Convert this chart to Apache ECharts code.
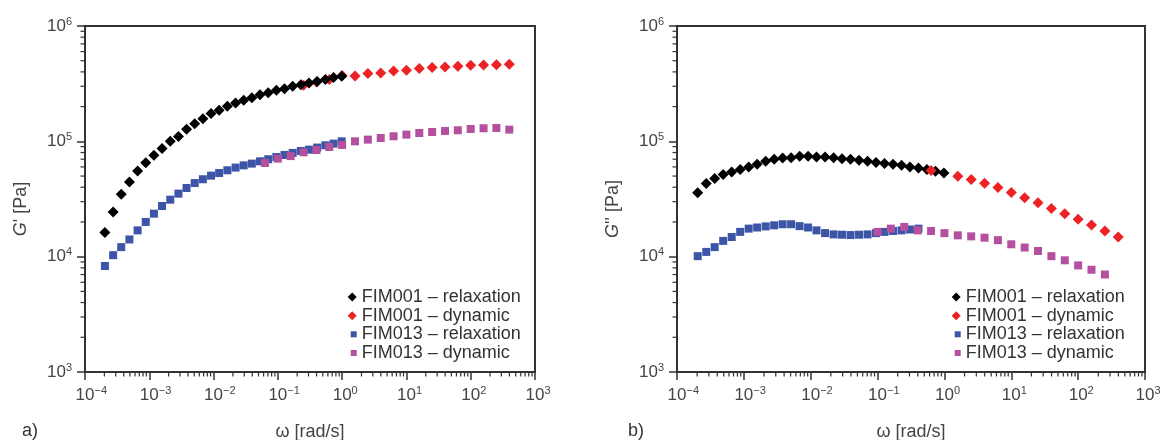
<!DOCTYPE html>
<html>
<head>
<meta charset="utf-8">
<script src="https://cdn.jsdelivr.net/npm/echarts@6/dist/echarts.min.js"></script>
<style>html,body{margin:0;padding:0;background:#fff}#c{width:1163px;height:440px}</style>
</head>
<body>
<div id="c"></div>
<script>
// ---------------- data ----------------
const seriesNames = ['FIM001 – relaxation', 'FIM001 – dynamic', 'FIM013 – relaxation', 'FIM013 – dynamic'];
const panelLabels = ['a)', 'b)'];
const yAxisNames = ["G' [Pa]", "G'' [Pa]"];
const xAxisName = 'ω [rad/s]';

// relaxation frequencies (rad/s)
const omegaRelax = [2.04e-4, 2.74e-4, 3.66e-4, 4.91e-4, 6.58e-4, 8.81e-4, 1.18e-3, 1.58e-3, 2.12e-3, 2.84e-3,
  3.80e-3, 5.09e-3, 6.82e-3, 9.14e-3, 1.22e-2, 1.64e-2, 2.20e-2, 2.94e-2, 3.94e-2, 5.28e-2,
  7.08e-2, 9.48e-2, 0.127, 0.170, 0.228, 0.305, 0.409, 0.548, 0.735, 0.984];
// dynamic frequencies (rad/s)
const omegaDynA001 = [0.251, 0.398, 0.631, 1.0, 1.585, 2.512, 3.981, 6.31, 10, 15.85, 25.12, 39.81, 63.1, 100, 158.5, 251.2, 398.1];
const omegaDynA013 = [0.063, 0.1, 0.158, 0.251, 0.398, 0.631, 1.0, 1.585, 2.512, 3.981, 6.31, 10, 15.85, 25.12, 39.81, 63.1, 100, 158.5, 251.2, 398.1];
const omegaDynB001 = [0.631, 1.585, 2.512, 3.981, 6.31, 10, 15.85, 25.12, 39.81, 63.1, 100, 158.5, 251.2, 398.1];
const omegaDynB013 = [0.1, 0.158, 0.251, 0.398, 0.631, 1.0, 1.585, 2.512, 3.981, 6.31, 10, 15.85, 25.12, 39.81, 63.1, 100, 158.5, 251.2];

// panel a: G' [Pa]
const gA001Relax = [16200, 24400, 34700, 44500, 55400, 65300, 75600, 86500, 100000, 110000, 127000, 142000, 157000, 174000, 186000,
  201000, 215000, 227000, 239000, 254000, 264000, 277000, 286000, 300000, 310000, 321000, 331000, 343000, 357000, 367000];
const gA001Dyn = [306000, 327000, 343000, 372000, 368000, 387000, 391000, 407000, 413000, 427000, 436000, 441000, 447000, 456000, 459000, 462000, 466000];
const gA013Relax = [8300, 10300, 12100, 14100, 16900, 20000, 23600, 27500, 31200, 35200, 39400, 43500, 46900, 50400, 53100,
  56100, 59200, 61900, 64100, 67100, 69900, 73100, 76200, 79300, 82500, 84700, 88300, 92400, 95500, 100000];
const gA013Dyn = [64900, 70800, 74500, 80300, 84100, 89300, 93000, 100000, 103500, 106900, 110600, 114400, 118100, 120500, 123000, 124700, 128000, 129800, 130600, 126400];

// panel b: G'' [Pa]
const gB001Relax = [35900, 43000, 47500, 51500, 54200, 56900, 59900, 63200, 67100, 69900, 71700, 72200, 74100, 74100, 73100,
  73100, 72200, 70800, 69900, 68500, 67100, 65400, 64100, 63200, 61900, 59900, 58700, 56900, 55000, 53100];
const gB001Dyn = [56000, 49700, 46600, 43300, 39800, 36000, 32500, 29400, 26100, 23600, 21100, 18800, 16700, 14800];
const gB013Relax = [10100, 11000, 12100, 13700, 14800, 16400, 17500, 17900, 18300, 18700, 19100, 19100, 18400, 17900, 16900,
  16000, 15600, 15500, 15400, 15500, 15600, 16000, 16400, 16700, 16900, 17200, 17500];
const gB013Dyn = [16400, 17500, 18100, 16900, 16700, 16000, 15300, 15000, 14600, 13900, 12800, 12000, 11200, 10100, 9300, 8400, 7700, 7000];

const xRange = [1e-4, 1e3];
const yRange = [1e3, 1e6];

// ---------------- styling ----------------
const FONT = "'Liberation Sans', Arial, sans-serif";
const colors = ['#000000', '#ec2224', '#3c55a6', '#b5509f'];
const symbols = ['diamond', 'diamond', 'rect', 'rect'];
const sizes = [11, 11, 8, 8];
const axisCol = '#333';
const labCol = '#444';

function pairs(xs, ys) { return ys.map((y, i) => [xs[i], y]); }
function supText(v) {
  const e = Math.round(Math.log10(v));
  return e < 0 ? '−' + (-e) : '' + e;
}
const richLab = {
  h: { fontSize: 11, color: 'transparent', verticalAlign: 'top', lineHeight: 11, fontFamily: FONT },
  b: { fontSize: 17, color: labCol, lineHeight: 20, fontFamily: FONT },
  s: { fontSize: 11, color: labCol, verticalAlign: 'top', lineHeight: 11, fontFamily: FONT }
};

const grids = [
  { left: 85, top: 26, width: 450, height: 346 },
  { left: 677, top: 26, width: 468, height: 346 }
];

// minor tick positions (decoration only: 2..9 × 10^n)
const minorXVals = [], minorYVals = [];
for (let d = -4; d < 3; d++) for (let m = 2; m <= 9; m++) minorXVals.push(m * Math.pow(10, d));
for (let d = 3; d < 6; d++) for (let m = 2; m <= 9; m++) minorYVals.push(m * Math.pow(10, d));

const xAxes = [], yAxes = [];
grids.forEach((g, gi) => {
  xAxes.push({
    type: 'log', logBase: 10, gridIndex: gi, min: xRange[0], max: xRange[1], position: 'bottom',
    name: xAxisName, nameLocation: 'middle', nameGap: 51,
    nameTextStyle: { fontSize: 18, color: labCol, fontFamily: FONT },
    axisLine: { show: true, onZero: false, lineStyle: { color: axisCol, width: 2 } },
    axisTick: { show: true, inside: false, length: 8, lineStyle: { color: axisCol, width: 1.5 } },
    minorTick: { show: false }, splitLine: { show: false },
    axisLabel: { margin: 13, formatter: v => '{h|' + supText(v) + '}{b|10}{s|' + supText(v) + '}', rich: richLab }
  });
  yAxes.push({
    type: 'log', logBase: 10, gridIndex: gi, min: yRange[0], max: yRange[1], position: 'left',
    name: '{i|G}{n|' + yAxisNames[gi].slice(1) + '}', nameLocation: 'middle', nameGap: 55, nameRotate: 90,
    nameTextStyle: { fontSize: 18, color: labCol, fontFamily: FONT, padding: [0, 20, 0, 0],
      rich: { i: { fontSize: 18, fontStyle: 'italic', color: labCol, fontFamily: FONT }, n: { fontSize: 18, color: labCol, fontFamily: FONT } } },
    axisLine: { show: true, onZero: false, lineStyle: { color: axisCol, width: 2 } },
    axisTick: { show: true, inside: false, length: 8, lineStyle: { color: axisCol, width: 1.5 } },
    minorTick: { show: false }, splitLine: { show: false },
    axisLabel: { margin: 13, formatter: v => '{b|10}{s|' + supText(v) + '}', rich: richLab }
  });
});

const panelData = [
  [pairs(omegaRelax, gA001Relax), pairs(omegaDynA001, gA001Dyn), pairs(omegaRelax, gA013Relax), pairs(omegaDynA013, gA013Dyn)],
  [pairs(omegaRelax, gB001Relax), pairs(omegaDynB001, gB001Dyn), pairs(omegaRelax, gB013Relax), pairs(omegaDynB013, gB013Dyn)]
];
const zOrder = [[4, 3, 1, 2], [3, 4, 1, 2]];

const series = [];
panelData.forEach((pd, gi) => {
  pd.forEach((d, si) => {
    series.push({
      type: 'scatter', name: seriesNames[si], xAxisIndex: gi, yAxisIndex: gi,
      symbol: symbols[si], symbolSize: sizes[si], z: zOrder[gi][si],
      itemStyle: { color: colors[si], opacity: 1 },
      emphasis: { disabled: true }, animation: false,
      data: d
    });
  });
});
// minor ticks drawn through the axes' own log scales
grids.forEach((g, gi) => {
  series.push({
    type: 'custom', xAxisIndex: gi, yAxisIndex: gi, silent: true, clip: false, z: 10, animation: false,
    data: minorXVals.map(v => [v, yRange[0]]),
    renderItem: (params, api) => {
      const p = api.coord([api.value(0), yRange[0]]);
      return { type: 'line', shape: { x1: p[0], y1: p[1], x2: p[0], y2: p[1] + 4.5 }, style: { stroke: axisCol, lineWidth: 1.2 } };
    }
  });
  series.push({
    type: 'custom', xAxisIndex: gi, yAxisIndex: gi, silent: true, clip: false, z: 10, animation: false,
    data: minorYVals.map(v => [xRange[0], v]),
    renderItem: (params, api) => {
      const p = api.coord([xRange[0], api.value(1)]);
      return { type: 'line', shape: { x1: p[0] - 4.5, y1: p[1], x2: p[0], y2: p[1] }, style: { stroke: axisCol, lineWidth: 1.2 } };
    }
  });
});

const legendText = { fontSize: 18, color: '#333', fontFamily: FONT, lineHeight: 18 };
const legendLeft = [347.7, 951.7];
const legends = [];
legendLeft.forEach(L => {
  legends.push({ orient: 'vertical', left: L, top: 288, padding: 0, itemGap: 0.67, itemWidth: 9, itemHeight: 9,
    selectedMode: false, data: [seriesNames[0], seriesNames[1]], textStyle: legendText });
  legends.push({ orient: 'vertical', left: L + 3, top: 325.3, padding: 0, itemGap: 0.67, itemWidth: 6, itemHeight: 6,
    selectedMode: false, data: [seriesNames[2], seriesNames[3]], textStyle: legendText });
});

const option = {
  backgroundColor: '#fff',
  animation: false,
  title: [
    { text: panelLabels[0], left: 22, top: 422, padding: 0, textStyle: { fontSize: 18, fontWeight: 'normal', color: '#333', fontFamily: FONT } },
    { text: panelLabels[1], left: 628, top: 422, padding: 0, textStyle: { fontSize: 18, fontWeight: 'normal', color: '#333', fontFamily: FONT } }
  ],
  grid: grids.map(g => Object.assign({ show: true, borderColor: axisCol, borderWidth: 2, backgroundColor: 'transparent',
    containLabel: false, outerBoundsMode: 'none' }, g)),
  xAxis: xAxes,
  yAxis: yAxes,
  legend: legends,
  series: series
};

const chart = echarts.init(document.getElementById('c'), null, { renderer: 'canvas' });
chart.setOption(option);
</script>
</body>
</html>
